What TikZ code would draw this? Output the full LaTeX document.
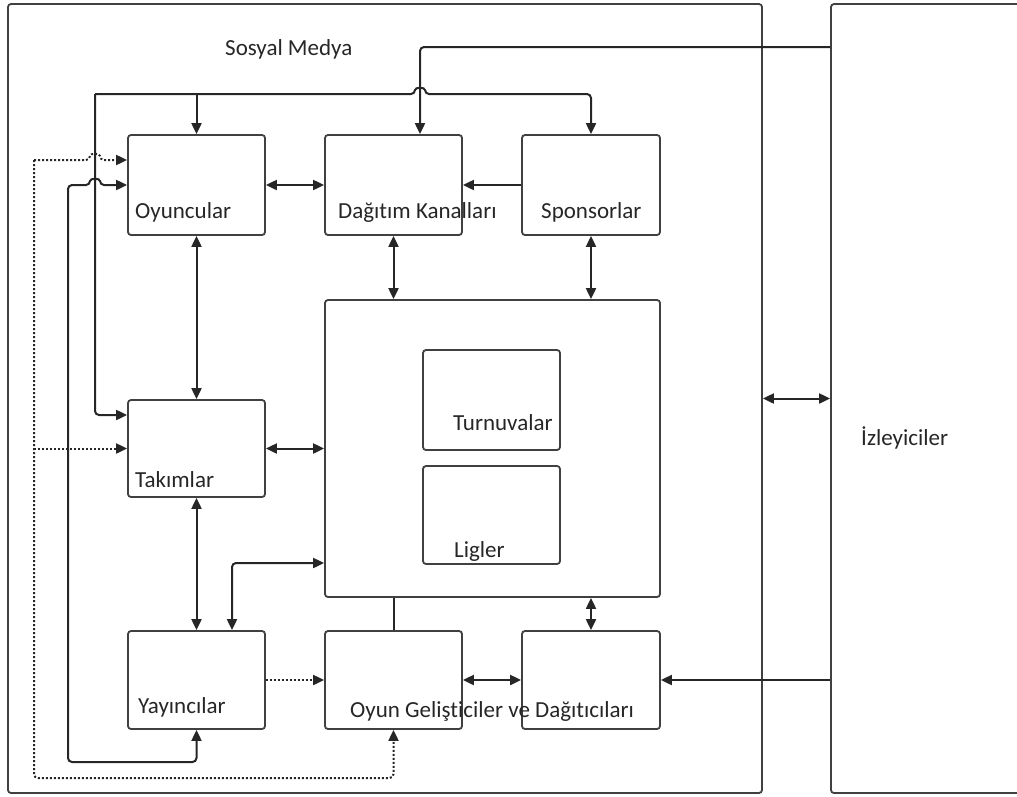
\documentclass[tikz,border=0pt]{standalone}
\usepackage{fontspec}
\setmainfont{Carlito}[Ligatures=NoCommon]
\usepackage{tikz}
\usetikzlibrary{arrows.meta}
\tikzstyle{block} = [draw=black!75, rectangle, rounded corners=3pt, line width=1.8pt, inner sep=0pt]
\tikzstyle{boxtext} = [anchor=base west, inner sep=0pt, text=black!85, font=\fontsize{23}{27}\selectfont]
\tikzstyle{conn} = [draw=black!85, line width=2pt, rounded corners=4pt]

\begin{document}
\begin{tikzpicture}[x=1pt, y=-1pt, >={Triangle[length=11pt,width=10pt]}]
	\useasboundingbox (0,0) rectangle (1017,796);
	\clip (0,0) rectangle (1017,796);

	% outer frames
	\node (SOSYAL_MEDYA) [block, minimum width=754pt, minimum height=789pt] at (385,398.5) {};
	\node (IZLEYICILER) [block, minimum width=220pt, minimum height=789pt] at (941,398.5) {};

	% boxes
	\node (OYUNCULAR) [block, minimum width=137pt, minimum height=100pt] at (196.5,185) {};
	\node (DAGITIM_KANAL) [block, minimum width=137pt, minimum height=100pt] at (393.5,185) {};
	\node (SPONSOR) [block, minimum width=138pt, minimum height=100pt] at (591,185) {};
	\node (ETKINLIK) [block, minimum width=335pt, minimum height=297pt] at (492.5,448.5) {};
	\node (TURNUVA) [block, minimum width=137pt, minimum height=100pt] at (491.5,400) {};
	\node (LIG) [block, minimum width=137pt, minimum height=98pt] at (491.5,515) {};
	\node (TAKIM) [block, minimum width=137pt, minimum height=97pt] at (196.5,448.5) {};
	\node (YAYINCI) [block, minimum width=137pt, minimum height=98pt] at (196.5,680) {};
	\node (OYUN_GEL) [block, minimum width=137pt, minimum height=98pt] at (393.5,680) {};
	\node (DAGITICI) [block, minimum width=138pt, minimum height=98pt] at (591,680) {};

	% texts
	\node (SOSYAL_TXT) [boxtext] at (225,55) {Sosyal Medya};
	\node (IZLEYICI_TXT) [boxtext] at (861,445) {İzleyiciler};
	\node (OYUNCULAR_TXT) [boxtext] at (135,218) {Oyuncular};
	\node (DAGITIM_TXT) [boxtext] at (338,218) {Dağıtım Kanalları};
	\node (SPONSOR_TXT) [boxtext] at (541,218) {Sponsorlar};
	\node (TURNUVA_TXT) [boxtext] at (453,430) {Turnuvalar};
	\node (LIG_TXT) [boxtext] at (454,557) {Ligler};
	\node (TAKIM_TXT) [boxtext] at (135,487) {Takımlar};
	\node (YAYINCI_TXT) [boxtext] at (138,713) {Yayıncılar};
	\node (OYUN_GEL_TXT) [boxtext] at (350,717) {Oyun Gelişticiler ve Dağıtıcıları};

	\coordinate (BUS_L) at (95,94);
	\coordinate (DOT_L) at (34,160);

	% top bus
	\draw[conn, ->] (BUS_L) |- (TAKIM.west |- 0,415);
	\draw[conn, ->] (BUS_L) -- (415,94) .. controls (415,87) and (425,87) .. (425,94) -| (SPONSOR.north);
	\draw[conn, ->] (OYUNCULAR.north |- BUS_L) -- (OYUNCULAR.north);
	\draw[conn, ->] (IZLEYICILER.west |- 0,47) -| (DAGITIM_KANAL.north -| 420,0);

	% dotted feedback
	\draw[conn, dotted, ->] (DOT_L) -- (90,160) .. controls (90,153) and (100,153) .. (100,160) -- (OYUNCULAR.west |- DOT_L);
	\draw[conn, dotted, ->] (DOT_L) |- (OYUN_GEL.south |- 0,778) -- (OYUN_GEL.south);
	\draw[conn, dotted, ->] (DOT_L |- TAKIM.west) -- (TAKIM.west);
	\draw[conn, dotted, ->] (YAYINCI.east) -- (OYUN_GEL.west);

	% left loop
	\draw[conn, <->] (OYUNCULAR.west |- 0,185) -- (100,185) .. controls (100,178) and (90,178) .. (90,185) -| (68,762) -| (YAYINCI.south);

	% main links
	\draw[conn, <->] (OYUNCULAR.east) -- (DAGITIM_KANAL.west);
	\draw[conn, ->] (SPONSOR.west) -- (DAGITIM_KANAL.east);
	\draw[conn, <->] (OYUNCULAR.south) -- (TAKIM.north);
	\draw[conn, <->] (TAKIM.south) -- (YAYINCI.north);
	\draw[conn, <->] (DAGITIM_KANAL.south) -- (DAGITIM_KANAL.south |- ETKINLIK.north);
	\draw[conn, <->] (SPONSOR.south) -- (SPONSOR.south |- ETKINLIK.north);
	\draw[conn, <->] (TAKIM.east) -- (TAKIM.east -| ETKINLIK.west);
	\draw[conn, <->] (ETKINLIK.west |- 0,563) -| (YAYINCI.north -| 232,0);
	\draw[conn] (ETKINLIK.south -| OYUN_GEL.north) -- (OYUN_GEL.north);
	\draw[conn, <->] (ETKINLIK.south -| DAGITICI.north) -- (DAGITICI.north);
	\draw[conn, <->] (OYUN_GEL.east) -- (DAGITICI.west);
	\draw[conn, ->] (IZLEYICILER.west |- DAGITICI.east) -- (DAGITICI.east);
	\draw[conn, <->] (SOSYAL_MEDYA.east) -- (IZLEYICILER.west);
\end{tikzpicture}
\end{document}
